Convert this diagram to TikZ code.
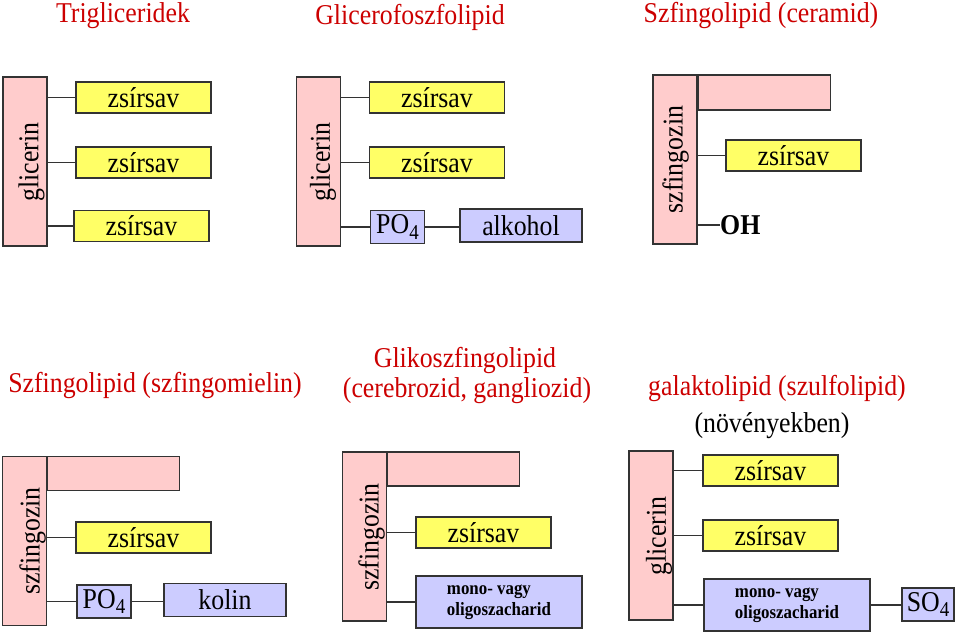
\documentclass[tikz,border=0pt]{standalone}
\usepackage{fontspec}
\setmainfont{Liberation Serif}[FakeStretch = 0.9]
\usepackage{xcolor}
\definecolor{LipPink}{HTML}{FFCCCC}
\definecolor{LipYellow}{HTML}{FFFF66}
\definecolor{LipBlue}{HTML}{CCCCFF}
\definecolor{LipRed}{HTML}{CC0000}
\definecolor{LipLine}{HTML}{333333}
\newcommand{\bigfont}{\fontsize{24.5}{28}\selectfont}
\newcommand{\POfour}{PO\raisebox{-0.4ex}{\fontsize{18}{20}\selectfont 4}}
\newcommand{\SOfour}{SO\raisebox{-0.4ex}{\fontsize{18}{20}\selectfont 4}}
\tikzset{
    lipbox/.style = {
        shape      = rectangle,
        draw       = LipLine,
        line width = 1pt,
        inner sep  = 0pt,
        font       = \bigfont,
    },
    backbone/.style = {lipbox, fill = LipPink,   minimum width = 1.32cm, minimum height = 5.07cm},
    tailbox/.style  = {lipbox, fill = LipPink,   minimum width = 3.96cm, minimum height = 1.05cm, anchor = north west},
    acid/.style     = {lipbox, fill = LipYellow, minimum width = 4.05cm, minimum height = 0.93cm},
    headbox/.style  = {lipbox, fill = LipBlue,   minimum width = 1.62cm, minimum height = 0.99cm},
    alcbox/.style   = {lipbox, fill = LipBlue,   minimum width = 3.66cm, minimum height = 0.99cm},
    sugar/.style    = {lipbox, fill = LipBlue,   minimum width = 4.98cm, minimum height = 1.56cm,
                       align = left, font = \fontsize{16}{17.5}\selectfont\bfseries},
    spine/.style    = {rotate = 90, inner sep = 0pt, font = \bigfont},
    title/.style    = {anchor = base, inner sep = 0pt, text = LipRed, font = \bigfont},
    bond/.style     = {draw = LipLine, line width = 0.9pt},
}

\begin{document}
\begin{tikzpicture}[x = 0.03cm, y = -0.03cm]
    \useasboundingbox (0, 0) rectangle (960, 635);

    % titles
    \node[title] (ttri) at (123, 22) {Trigliceridek};
    \node[title] (tgfl) at (410, 24) {Glicerofoszfolipid};
    \node[title] (tcer) at (761, 22) {Szfingolipid (ceramid)};
    \node[title] (tsm)  at (155, 392) {Szfingolipid (szfingomielin)};
    \node[title] (tgl1) at (465, 367) {Glikoszfingolipid};
    \node[title] (tgl2) at (467, 397) {(cerebrozid, gangliozid)};
    \node[title] (tgal) at (777, 395) {galaktolipid (szulfolipid)};
    \node[title, text = black] (tnov) at (772, 432) {(növényekben)};

    % trigliceridek
    \node[backbone] (gl1) at (25, 161.5) {};
    \node[spine] (gl1txt) at (31.5, 162) {glicerin};
    \node[acid] (z11) at (143.5,  97.5) {zsírsav};
    \node[acid] (z12) at (143.5, 162.5) {zsírsav};
    \node[acid] (z13) at (141.5, 226)   {zsírsav};
    \draw[bond]
        (z11.west -| gl1.east) -- (z11.west)
        (z12.west -| gl1.east) -- (z12.west)
        (z13.west -| gl1.east) -- (z13.west)
    ;

    % glicerofoszfolipid
    \node[backbone] (gl2) at (318.5, 161.5) {};
    \node[spine] (gl2txt) at (323, 162) {glicerin};
    \node[acid]    (z21) at (437,  97.5) {zsírsav};
    \node[acid]    (z22) at (437, 162.5) {zsírsav};
    \node[headbox] (po2) at (397.5, 227) {\POfour};
    \node[alcbox]  (alk) at (521, 225.5) {alkohol};
    \draw[bond]
        (z21.west -| gl2.east) -- (z21.west)
        (z22.west -| gl2.east) -- (z22.west)
        (po2.west -| gl2.east) -- (po2.west)
        (po2.east) -- (po2.east -| alk.west)
    ;

    % ceramid
    \node[backbone] (sz3) at (675, 159.5) {};
    \node[spine] (sz3txt) at (675.5, 159.5) {szfingozin};
    \node[tailbox] (tl3) at (sz3.north east) {};
    \node[acid] (z3) at (793.5, 155.5) {zsírsav};
    \node[anchor = west, inner sep = 0pt, font = \bigfont\bfseries] (oh3) at (720, 225) {OH};
    \draw[bond]
        (z3.west -| sz3.east) -- (z3.west)
        (oh3.west -| sz3.east) -- (oh3.west)
    ;

    % szfingomielin
    \node[backbone] (sz4) at (24.5, 541) {};
    \node[spine] (sz4txt) at (32.5, 541) {szfingozin};
    \node[tailbox, minimum height = 1.02cm] (tl4) at (sz4.north east) {};
    \node[acid]    (z4)  at (143.5, 537.5) {zsírsav};
    \node[headbox] (po4) at (104, 601.5) {\POfour};
    \node[alcbox]  (kol) at (225, 600) {kolin};
    \draw[bond]
        (z4.west -| sz4.east) -- (z4.west)
        (po4.west -| sz4.east) -- (po4.west)
        (po4.east) -- (po4.east -| kol.west)
    ;

    % glikoszfingolipid
    \node[backbone] (sz5) at (364.5, 536.5) {};
    \node[spine] (sz5txt) at (371.5, 537) {szfingozin};
    \node[tailbox, minimum height = 1.02cm] (tl5) at (sz5.north east) {};
    \node[acid]  (z5)  at (483.5, 532.5) {zsírsav};
    \node[sugar] (mo5) at (499, 602) {mono- vagy\\oligoszacharid};
    \draw[bond]
        (z5.west -| sz5.east) -- (z5.west)
        (mo5.west -| sz5.east) -- (mo5.west)
    ;

    % galaktolipid
    \node[backbone] (gl6) at (651, 535.5) {};
    \node[spine] (gl6txt) at (659, 536) {glicerin};
    \node[acid]    (z61) at (770.5, 470.5) {zsírsav};
    \node[acid]    (z62) at (770.5, 535.5) {zsírsav};
    \node[sugar]   (mo6) at (787, 605) {mono- vagy\\oligoszacharid};
    \node[headbox, minimum width = 1.56cm] (so6) at (928, 604.5) {\SOfour};
    \draw[bond]
        (z61.west -| gl6.east) -- (z61.west)
        (z62.west -| gl6.east) -- (z62.west)
        (mo6.west -| gl6.east) -- (mo6.west)
        (mo6.east) -- (mo6.east -| so6.west)
    ;
\end{tikzpicture}
\end{document}
